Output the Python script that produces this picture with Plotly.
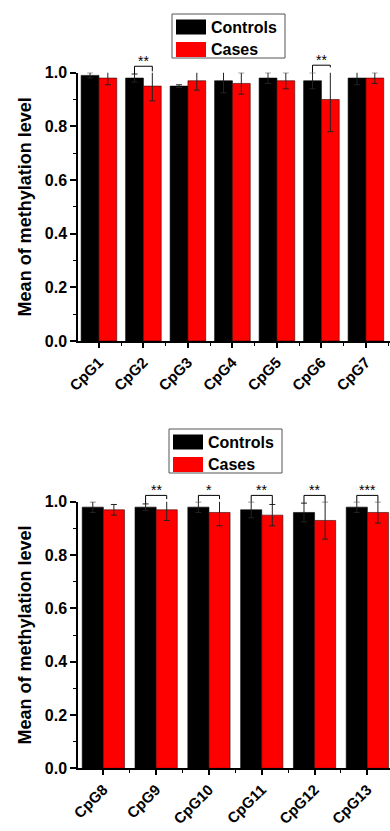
import plotly.graph_objects as go

# ---- data -------------------------------------------------------------
sites_a = ["CpG1", "CpG2", "CpG3", "CpG4", "CpG5", "CpG6", "CpG7"]
controls_a = [0.99, 0.98, 0.95, 0.97, 0.98, 0.97, 0.98]
controls_a_err = [0.010, 0.015, 0.005, 0.045, 0.020, 0.030, 0.025]
cases_a = [0.98, 0.95, 0.97, 0.96, 0.97, 0.90, 0.98]
cases_a_err = [0.025, 0.055, 0.035, 0.040, 0.030, 0.120, 0.020]
sig_a = ["", "**", "", "", "", "**", ""]

sites_b = ["CpG8", "CpG9", "CpG10", "CpG11", "CpG12", "CpG13"]
controls_b = [0.98, 0.98, 0.98, 0.97, 0.96, 0.98]
controls_b_err = [0.020, 0.012, 0.020, 0.030, 0.035, 0.020]
cases_b = [0.97, 0.97, 0.96, 0.95, 0.93, 0.96]
cases_b_err = [0.020, 0.040, 0.050, 0.040, 0.070, 0.040]
sig_b = ["", "**", "*", "**", "**", "***"]

series_names = ["Controls", "Cases"]
series_colors = ["#000000", "#ff0000"]
y_title = "Mean of methylation level"

# ---- layout geometry --------------------------------------------------
W, H = 390, 831
ML = 78
FONT = "Arial, Liberation Sans, sans-serif"


def px_x(p):
    return (p - ML) / (W - ML)


def px_y(p):
    return 1 - p / H


panels = [
    dict(sites=sites_a, ctrl=controls_a, ctrl_err=controls_a_err,
         case=cases_a, case_err=cases_a_err, sig=sig_a,
         ax="", ydom=[px_y(341), px_y(72.7)], xr=[-0.47, 6.541],
         legend=(172, 14)),
    dict(sites=sites_b, ctrl=controls_b, ctrl_err=controls_b_err,
         case=cases_b, case_err=cases_b_err, sig=sig_b,
         ax="2", ydom=[px_y(768.3), px_y(501.8)], xr=[-0.48, 5.429],
         legend=(169, 429)),
]

fig = go.Figure()
shapes = []
annotations = []
err_color = "#222222"

for p in panels:
    idx = list(range(len(p["sites"])))
    xa, ya = "x" + p["ax"], "y" + p["ax"]
    for name, color, vals, errs in [
        (series_names[0], series_colors[0], p["ctrl"], p["ctrl_err"]),
        (series_names[1], series_colors[1], p["case"], p["case_err"]),
    ]:
        fig.add_trace(go.Bar(
            x=idx, y=vals, name=name, xaxis=xa, yaxis=ya,
            marker=dict(color=color, line=dict(color="#3a0000" if color != "#000000" else "#000000", width=0.6)),
            error_y=dict(type="data", array=errs, color=err_color,
                         thickness=1, width=3),
            cliponaxis=False, showlegend=False,
        ))

    # significance brackets
    xref = xa
    yref = ya + " domain"
    for i, s in enumerate(p["sig"]):
        if not s:
            continue
        t0 = p["ctrl"][i] + p["ctrl_err"][i]
        t1 = p["case"][i] + p["case_err"][i]
        level = max(1.024, max(t0, t1) + 0.008)
        x0, x1 = i - 0.2, i + 0.2
        line = dict(color="#000000", width=1)
        shapes += [
            dict(type="line", xref=xref, yref=yref, x0=x0, x1=x0, y0=min(t0, level - 0.008), y1=level, line=line),
            dict(type="line", xref=xref, yref=yref, x0=x0, x1=x1, y0=level, y1=level, line=line),
            dict(type="line", xref=xref, yref=yref, x0=x1, x1=x1, y0=min(t1, level - 0.008), y1=level, line=line),
        ]
        annotations.append(dict(
            x=i, y=level, xref=xref, yref=yref, text=s, showarrow=False,
            xanchor="center", yanchor="middle", yshift=5,
            font=dict(family=FONT, size=14, color="#000000"),
        ))

    # legend box
    L, T = p["legend"]
    shapes.append(dict(type="rect", xref="paper", yref="paper",
                       x0=px_x(L), x1=px_x(L + 113), y0=px_y(T), y1=px_y(T + 44),
                       line=dict(color="#555555", width=1), fillcolor="#ffffff"))
    for k in range(2):
        top = T + 5.5 + k * 22.5
        shapes.append(dict(type="rect", xref="paper", yref="paper",
                           x0=px_x(L + 4), x1=px_x(L + 34), y0=px_y(top), y1=px_y(top + 15),
                           line=dict(width=0), fillcolor=series_colors[k]))
        annotations.append(dict(
            x=px_x(L + 37), y=px_y(top + 7.5), xref="paper", yref="paper",
            text="<b>%s</b>" % series_names[k], showarrow=False,
            xanchor="left", yanchor="middle",
            font=dict(family=FONT, size=16, color="#000000"),
        ))

axis_common = dict(showline=True, linecolor="#000000", linewidth=1.5,
                   ticks="outside", tickcolor="#000000", tickwidth=1.5,
                   showgrid=False, zeroline=False, automargin=False)

layout = dict(
    width=W, height=H,
    margin=dict(l=ML, r=0, t=0, b=0),
    paper_bgcolor="#ffffff", plot_bgcolor="#ffffff",
    barmode="group", bargap=0.2, bargroupgap=0.0,
    showlegend=False,
    shapes=shapes, annotations=annotations,
)

for p in panels:
    n = len(p["sites"])
    layout["xaxis" + p["ax"]] = dict(
        axis_common, domain=[0, 1], range=p["xr"], anchor="y" + p["ax"],
        tickmode="array", tickvals=list(range(n)),
        ticktext=["<b>%s</b>" % s for s in p["sites"]],
        tickangle=-45, ticklen=5,
        tickfont=dict(family=FONT, size=15, color="#000000"),
        minor=dict(ticks="outside", tick0=0.5, dtick=1, ticklen=3,
                   tickwidth=1, tickcolor="#000000"),
    )
    layout["yaxis" + p["ax"]] = dict(
        axis_common, domain=p["ydom"], range=[0, 1.0], anchor="x" + p["ax"],
        tickmode="linear", tick0=0, dtick=0.2, tickformat=".1f", ticklen=6,
        tickprefix="<b>", ticksuffix="</b>",
        tickfont=dict(family=FONT, size=16, color="#000000"),
        minor=dict(ticks="outside", dtick=0.1, ticklen=3, tickwidth=1,
                   tickcolor="#000000"),
        title=dict(text="<b>%s</b>" % y_title, standoff=8,
                   font=dict(family=FONT, size=18, color="#000000")),
    )

fig.update_layout(**layout)
fig.write_html("out.html")
